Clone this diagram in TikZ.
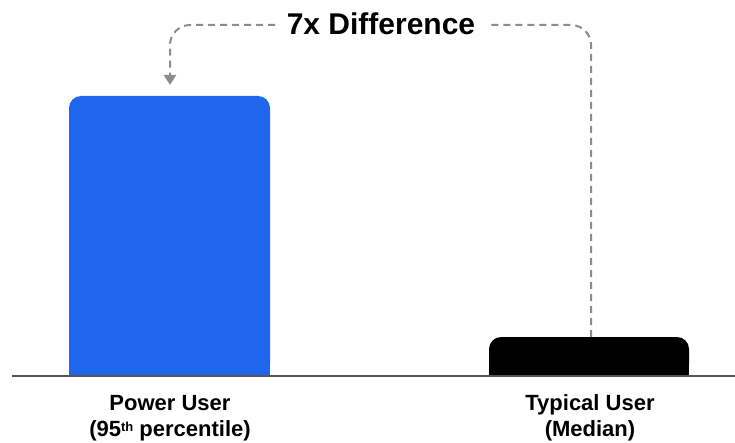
\documentclass[tikz,border=0pt]{standalone}
\usepackage{fontspec}
\setmainfont{Liberation Sans}
\usetikzlibrary{arrows.meta}
\definecolor{powerblue}{HTML}{2065EE}
\definecolor{axisgray}{HTML}{555555}
\definecolor{dashgray}{HTML}{8C8C8C}
\tikzset{
  barshape/.style={rounded corners=12pt},
  axisline/.style={draw=axisgray, line width=1.8pt},
  diffarrow/.style={draw=dashgray, line width=2pt, dash pattern=on 7pt off 5pt,
    rounded corners=20pt, -{Triangle[width=12pt,length=10pt]}},
  titletext/.style={font=\fontsize{30}{36}\selectfont\bfseries, inner sep=0pt, anchor=base},
  catlabel/.style={font=\fontsize{22}{26}\selectfont\bfseries, align=center, inner sep=0pt, anchor=base}
}
\begin{document}
\begin{tikzpicture}[x=1pt, y=1pt]
  \useasboundingbox (0,0) rectangle (735,442);

  % bars (rounded top, square base)
  \fill[powerblue, barshape] (69,66) rectangle (270,346);
  \fill[powerblue] (69,66) rectangle (270,200);
  \fill[black, barshape] (489,66) rectangle (689,105);
  \fill[black] (489,66) rectangle (689,85);

  \coordinate (powertop) at (170,357);
  \coordinate (typicaltop) at (591,105);

  % baseline axis
  \coordinate (axisL) at (12,66);
  \coordinate (axisR) at (735,66);
  \draw[axisline] (axisL) -- (axisR);

  % difference annotation
  \node[titletext] (diff) at (381,407) {7x Difference};
  \coordinate (diffR) at (488,417);
  \coordinate (diffL) at (275,417);
  \draw[diffarrow, -] (typicaltop) |- (diffR);
  \draw[diffarrow] (diffL) -| (powertop);

  % category labels
  \node[catlabel] (powerlbl) at (170,32) {Power User};
  \node[catlabel] (powersub) at (170,6) {(95{\fontsize{13}{13}\selectfont\raisebox{5pt}{th}} percentile)};
  \node[catlabel] (typlbl) at (590,32) {Typical User};
  \node[catlabel] (typsub) at (590,6) {(Median)};
\end{tikzpicture}
\end{document}
